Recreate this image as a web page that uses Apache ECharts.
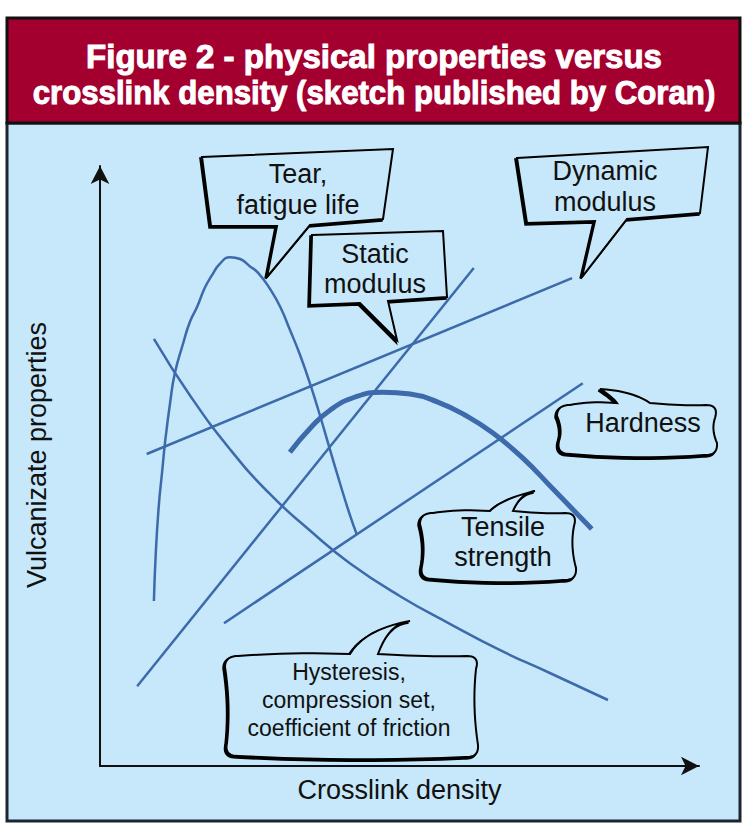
<!DOCTYPE html>
<html>
<head>
<meta charset="utf-8">
<script src="https://cdn.jsdelivr.net/npm/echarts@6/dist/echarts.min.js"></script>
<style>
  html, body { margin: 0; padding: 0; background: #fff; }
  #chart { width: 746px; height: 832px; }
</style>
</head>
<body>
<div id="chart"></div>
<script>
// values, x = crosslink density, y = property (both 0..100, arbitrary)
const tearFatigue = [[9.0, 27.5], [9.3, 35.2], [9.8, 43.2], [10.4, 49.3], [10.9, 54.3], [11.7, 60.5],
  [12.5, 65.5], [13.9, 70.5], [15.0, 74.0], [16.2, 76.5], [17.5, 79.7], [18.7, 81.8], [20.0, 83.7],
  [21.7, 84.8], [23.4, 84.5], [25.0, 83.3], [26.4, 82.2], [28.4, 79.5], [30.1, 76.5], [31.7, 72.7],
  [33.4, 68.5], [35.2, 63.3], [36.7, 58.5], [38.4, 52.7], [40.1, 47.0], [41.6, 42.2], [42.9, 38.5]];
const hysteresis = [[9.0, 71.2], [15.0, 61.8], [21.7, 52.8], [28.4, 45.3], [35.1, 39.2], [41.7, 33.8],
  [50.1, 28.3], [58.4, 23.7], [66.8, 19.3], [75.1, 15.5], [84.8, 11.0]];
const staticModulus = [[6.2, 13.3], [62.4, 83.0]];
const dynamicModulus = [[7.8, 52.0], [78.8, 81.3]];
const hardness = [[20.7, 23.8], [80.6, 63.8]];
const tensileStrength = [[31.7, 52.3], [35.1, 56.3], [38.4, 59.3], [42.6, 61.5], [47.2, 62.3], [51.8, 62.0],
  [56.3, 60.7], [60.9, 58.5], [65.6, 55.5], [70.6, 51.3], [75.6, 46.2], [82.1, 39.5]];

const titleLines = ['Figure 2 - physical properties versus', 'crosslink density (sketch published by Coran)'];
const xName = 'Crosslink density';
const yName = 'Vulcanizate properties';

const FONT = '"Liberation Sans", Arial, Helvetica, sans-serif';
const LINE = '#3C6AAB';
const PANEL = '#C6E8FA';
const CRIMSON = '#A3002F';

const chart = echarts.init(document.getElementById('chart'), null, { renderer: 'svg' });

function curve(name, data, width, smooth) {
	return {
		name: name,
		type: 'line',
		data: data,
		smooth: smooth,
		showSymbol: false,
		silent: true,
		lineStyle: { color: LINE, width: width, cap: 'butt' }
	};
}

// sample quadratic segments into polygon points (wavy callouts)
function wavyPoints(b) {
	const pts = [];
	let cur = [b.x1 + 12, b.y1 + 1];
	pts.push(cur);
	function q(cx, cy, x, y) {
		for (let i = 1; i <= 10; i++) {
			const t = i / 10, u = 1 - t;
			pts.push([u * u * cur[0] + 2 * u * t * cx + t * t * x, u * u * cur[1] + 2 * u * t * cy + t * t * y]);
		}
		cur = [x, y];
	}
	const my = (b.y1 + b.y2) / 2;
	q((b.x1 + b.bl) / 2, b.y1 - 3, b.bl, b.y1 - 1);
	q(b.bl + (b.tx - b.bl) * 0.25, b.ty + 8, b.tx, b.ty);
	q(b.br + (b.tx - b.br) * 0.35, b.ty + 2, b.br, b.y1 - 1);
	q((b.br + b.x2) / 2, b.y1 + 2, b.x2 - 10, b.y1 + 1);
	q(b.x2 + 3, b.y1 + 1, b.x2 - 1, b.y1 + 14);
	q(b.x2 - 5, my, b.x2 + 1, b.y2 - 12);
	q(b.x2 + 2, b.y2 + 1, b.x2 - 12, b.y2);
	q((b.x1 + b.x2) / 2, b.y2 + 5, b.x1 + 12, b.y2 - 1);
	q(b.x1 - 2, b.y2 - 1, b.x1 + 1, b.y2 - 14);
	q(b.x1 + 5, my, b.x1 - 1, b.y1 + 12);
	q(b.x1 - 1, b.y1 + 1, b.x1 + 12, b.y1 + 1);
	return pts;
}

function bubble(points, text, tx, ty, size, lh) {
	return {
		type: 'group',
		z: 50,
		children: [
			{ type: 'polygon', x: -1.5, y: 1.5, shape: { points: points },
				style: { fill: '#000', stroke: '#000', lineWidth: 2.5, lineJoin: 'miter' } },
			{ type: 'polygon', shape: { points: points },
				style: { fill: PANEL, stroke: '#000', lineWidth: 2, lineJoin: 'miter' } },
			{ type: 'text', x: tx, y: ty,
				style: { text: text, font: size + 'px ' + FONT, fill: '#111', align: 'center',
					verticalAlign: 'middle', lineHeight: lh } }
		]
	};
}

const callouts = [
	bubble([[202, 157], [393, 149], [383, 219], [310, 225], [267, 277], [277, 226], [211, 226]],
		'Tear,\nfatigue life', 298, 189, 27, 31),
	bubble([[312, 235], [443, 231], [447, 297], [388, 301], [397, 340], [360, 303], [310, 305]],
		'Static\nmodulus', 375, 269, 27, 30),
	bubble([[517, 158], [708, 147], [700, 213], [627, 219], [582, 277], [595, 221], [527, 223]],
		'Dynamic\nmodulus', 605, 186, 27, 31),
	bubble(wavyPoints({ x1: 558, y1: 404, x2: 716, y2: 455, bl: 617, br: 650, tx: 600, ty: 389 }),
		'Hardness', 643, 423, 27, 30),
	bubble(wavyPoints({ x1: 421, y1: 512, x2: 575, y2: 580, bl: 490, br: 513, tx: 535, ty: 491 }),
		'Tensile\nstrength', 503, 542, 27, 30),
	bubble(wavyPoints({ x1: 226, y1: 655, x2: 477, y2: 757, bl: 350, br: 378, tx: 410, ty: 621 }),
		'Hysteresis,\ncompression set,\ncoefficient of friction', 349, 700, 23, 28)
];

const frame = [
	{ type: 'rect', z: -10, shape: { x: 7, y: 123, width: 733, height: 698 },
		style: { fill: PANEL, stroke: '#1d2630', lineWidth: 3 } },
	{ type: 'rect', z: -9, shape: { x: 7, y: 18, width: 733, height: 105 },
		style: { fill: CRIMSON, stroke: '#111', lineWidth: 3 } },
	{ type: 'text', z: 60, x: 374, y: 56, scaleX: 1.0,
		style: { text: titleLines[0], font: 'bold 33px ' + FONT, fill: '#fff', align: 'center',
			verticalAlign: 'middle', stroke: '#fff', lineWidth: 1 } },
	{ type: 'text', z: 60, x: 374, y: 93, scaleX: 0.945,
		style: { text: titleLines[1], font: 'bold 33px ' + FONT, fill: '#fff', align: 'center',
			verticalAlign: 'middle', stroke: '#fff', lineWidth: 1 } }
];

const axisCommon = {
	type: 'value',
	min: 0,
	max: 100,
	nameLocation: 'middle',
	axisLine: { show: true, symbol: ['none', 'arrow'], symbolSize: [14, 18],
		lineStyle: { color: '#111', width: 2 } },
	axisTick: { show: false },
	axisLabel: { show: false },
	splitLine: { show: false }
};

chart.setOption({
	animation: false,
	backgroundColor: '#fff',
	grid: { left: 100, right: 47, top: 166, bottom: 66 },
	xAxis: Object.assign({}, axisCommon, {
		name: xName, nameGap: 10,
		nameTextStyle: { fontSize: 27, color: '#111', fontFamily: FONT }
	}),
	yAxis: Object.assign({}, axisCommon, {
		name: yName, nameGap: 50,
		nameTextStyle: { fontSize: 27, color: '#111', fontFamily: FONT, padding: [0, 0, 0, 22] }
	}),
	graphic: frame.concat(callouts),
	series: [
		curve('Tear, fatigue life', tearFatigue, 2.5, 0.5),
		curve('Hysteresis', hysteresis, 2.5, 0.5),
		curve('Static modulus', staticModulus, 2.5, false),
		curve('Dynamic modulus', dynamicModulus, 2.5, false),
		curve('Hardness', hardness, 2.5, false),
		curve('Tensile strength', tensileStrength, 5, 0.5)
	]
});
</script>
</body>
</html>
